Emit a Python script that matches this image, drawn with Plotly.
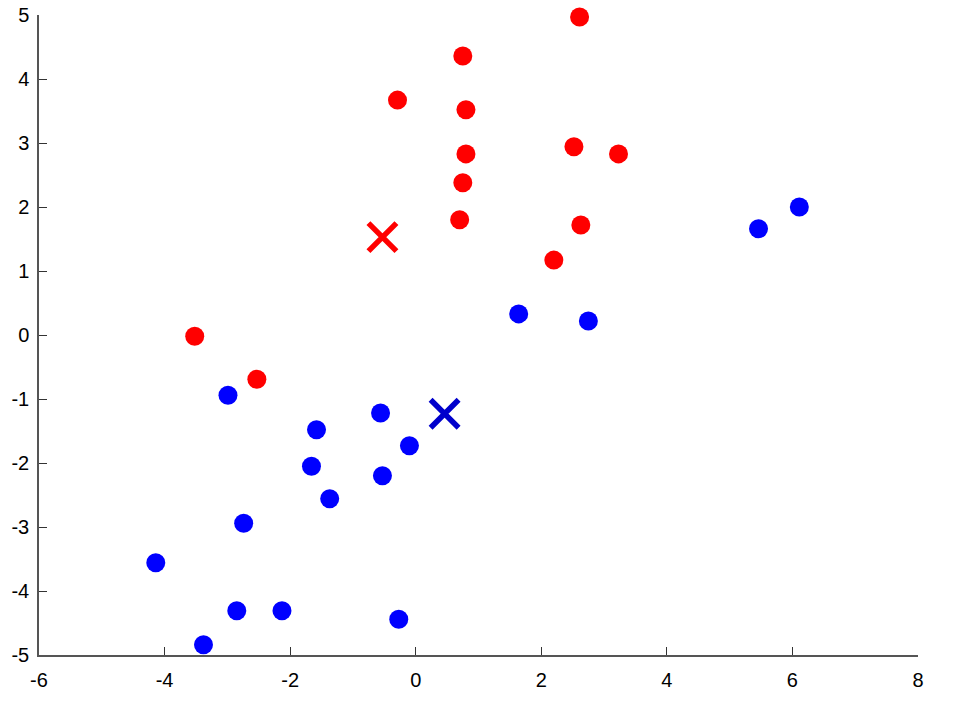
import plotly.graph_objects as go

red_x = [2.61, 0.75, -0.29, 0.80, 2.52, 3.23, 0.80, 0.75, 0.70, 2.63, 2.20, -3.52, -2.53]
red_y = [4.97, 4.36, 3.67, 3.52, 2.94, 2.83, 2.83, 2.38, 1.80, 1.72, 1.17, -0.02, -0.69]
blue_x = [6.11, 5.46, 1.64, 2.75, -2.99, -0.56, -1.58, -0.10, -1.66, -0.53, -1.37, -2.74, -4.14, -2.85, -2.13, -0.27, -3.38]
blue_y = [2.00, 1.66, 0.33, 0.22, -0.94, -1.22, -1.48, -1.73, -2.05, -2.20, -2.56, -2.94, -3.56, -4.31, -4.31, -4.44, -4.84]
red_center = ([-0.53], [1.53])
blue_center = ([0.46], [-1.23])
x_ticks = [-6, -4, -2, 0, 2, 4, 6, 8]
y_ticks = [-5, -4, -3, -2, -1, 0, 1, 2, 3, 4, 5]

fig = go.Figure()
fig.add_trace(go.Scatter(x=red_x, y=red_y, mode="markers",
                         marker=dict(color="#ff0000", size=19, line=dict(width=0)),
                         cliponaxis=False))
fig.add_trace(go.Scatter(x=blue_x, y=blue_y, mode="markers",
                         marker=dict(color="#0000ff", size=19, line=dict(width=0)),
                         cliponaxis=False))
fig.add_trace(go.Scatter(x=red_center[0], y=red_center[1], mode="markers",
                         marker=dict(symbol="x-thin", color="#ff0000", size=28,
                                     line=dict(width=5.5, color="#ff0000")),
                         cliponaxis=False))
fig.add_trace(go.Scatter(x=blue_center[0], y=blue_center[1], mode="markers",
                         marker=dict(symbol="x-thin", color="#0000cc", size=28,
                                     line=dict(width=5.5, color="#0000cc")),
                         cliponaxis=False))

axis_common = dict(showgrid=False, zeroline=False, showline=True, linecolor="#555555",
                   linewidth=1.5, ticks="inside", ticklen=8, tickcolor="#333333",
                   tickfont=dict(family="Liberation Sans, Arial, sans-serif", size=20, color="#000000"),
                   mirror=False, automargin=False)
fig.update_xaxes(range=[-6, 8], tickvals=x_ticks, ticktext=[str(v) for v in x_ticks],
                 ticklabelstandoff=6, **axis_common)
fig.update_yaxes(range=[-5, 5], tickvals=y_ticks, ticktext=[str(v) for v in y_ticks],
                 ticklabelstandoff=4, **axis_common)
fig.update_layout(width=956, height=708, showlegend=False,
                  plot_bgcolor="white", paper_bgcolor="white",
                  margin=dict(l=39, r=38, t=15, b=53))
fig.write_html("out.html", config={"displayModeBar": False},
               post_script="document.body.style.margin='0';")
